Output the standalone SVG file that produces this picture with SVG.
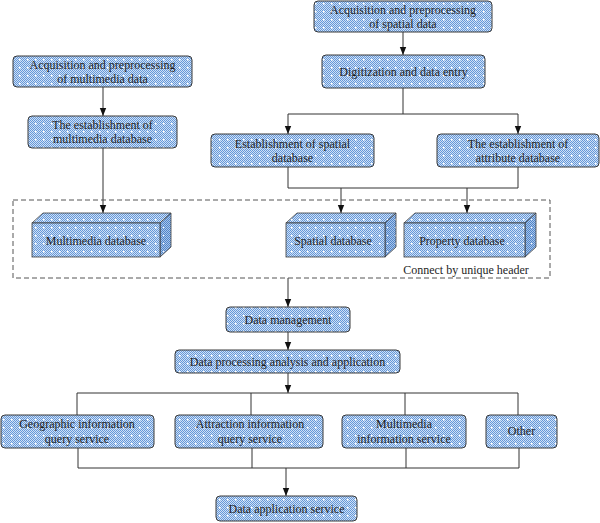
<svg xmlns="http://www.w3.org/2000/svg" width="600" height="523" viewBox="0 0 600 523">
<style>
.box{fill:url(#dots);stroke:#3a3a3a;stroke-width:1}
.face{fill:url(#dots);stroke:#3a3a3a;stroke-width:0.8}
.side{fill:url(#dotsDark);stroke:#3a3a3a;stroke-width:0.8}
text{font-family:"Liberation Serif","Times New Roman",serif;font-size:12px;fill:#1e1e1e;text-anchor:middle}
.ln{fill:none;stroke:#333;stroke-width:1}
.arr{fill:none;stroke:#333;stroke-width:1;marker-end:url(#ah)}
</style>
<defs>
<pattern id="chk" width="2" height="2" patternUnits="userSpaceOnUse">
<rect width="2" height="2" fill="#cfe1f6"/>
<rect width="1" height="1" fill="#6597d8"/>
<rect x="1" y="1" width="1" height="1" fill="#6597d8"/>
</pattern>
<pattern id="chkD" width="2" height="2" patternUnits="userSpaceOnUse">
<rect width="2" height="2" fill="#a9c6ea"/>
<rect width="1" height="1" fill="#4f83c8"/>
<rect x="1" y="1" width="1" height="1" fill="#4f83c8"/>
</pattern>
<pattern id="dots" width="8" height="8" patternUnits="userSpaceOnUse">
<rect width="8" height="8" fill="url(#chk)"/>
<rect x="3" y="3" width="1.6" height="1.6" fill="#ffffff"/>
</pattern>
<pattern id="dotsDark" width="8" height="8" patternUnits="userSpaceOnUse">
<rect width="8" height="8" fill="url(#chkD)"/>
<rect x="3" y="3" width="1.2" height="1.2" fill="#f0f6ff"/>
</pattern>
<marker id="ah" markerWidth="8" markerHeight="8" viewBox="0 0 8 8" refX="8" refY="4" orient="auto" markerUnits="userSpaceOnUse">
<path d="M0,0.8 L8,4 L0,7.2 Z" fill="#111"/>
</marker>
</defs>

<g id="connectors">
<line class="arr" x1="403" y1="32" x2="403" y2="55"/>
<polyline class="ln" points="403,88 403,114"/>
<polyline class="ln" points="288,114 518,114"/>
<line class="arr" x1="288" y1="114" x2="288" y2="134"/>
<line class="arr" x1="518" y1="114" x2="518" y2="134"/>
<line class="arr" x1="103" y1="87" x2="103" y2="116"/>
<line class="arr" x1="103" y1="148" x2="103" y2="213"/>
<polyline class="ln" points="288,167 288,188 518,188 518,167"/>
<line class="arr" x1="341" y1="188" x2="341" y2="213"/>
<line class="arr" x1="467" y1="188" x2="467" y2="213"/>
<line class="arr" x1="288" y1="278" x2="288" y2="307"/>
<line class="arr" x1="288" y1="332" x2="288" y2="350"/>
<line class="arr" x1="288" y1="373" x2="288" y2="393"/>
<polyline class="ln" points="77,415 77,393 518,393 518,415"/>
<line class="ln" x1="251" y1="393" x2="251" y2="415"/>
<line class="ln" x1="405" y1="393" x2="405" y2="415"/>
<polyline class="ln" points="78,448 78,468 519,468 519,448"/>
<line class="ln" x1="252" y1="448" x2="252" y2="468"/>
<line class="ln" x1="406" y1="448" x2="406" y2="468"/>
<line class="arr" x1="286" y1="468" x2="286" y2="496"/>
</g>

<g id="dbgroup">
<rect x="13" y="200" width="537" height="78" fill="none" stroke="#555" stroke-width="1" stroke-dasharray="5,3"/>
<text x="466" y="274">Connect by unique header</text>
</g>

<g id="n-spatial-acq">
<rect class="box" x="314" y="1" width="178" height="31" rx="4"/>
<text x="403" y="14">Acquisition and preprocessing</text>
<text x="403" y="28">of spatial data</text>
</g>
<g id="n-digit">
<rect class="box" x="322" y="55" width="163" height="33" rx="4"/>
<text x="403.5" y="75.5">Digitization and data entry</text>
</g>
<g id="n-mm-acq">
<rect class="box" x="13" y="56" width="179" height="31" rx="4"/>
<text x="102.5" y="69">Acquisition and preprocessing</text>
<text x="102.5" y="83">of multimedia data</text>
</g>
<g id="n-mm-est">
<rect class="box" x="28" y="116" width="149" height="32" rx="4"/>
<text x="102.5" y="129">The establishment of</text>
<text x="102.5" y="143">multimedia database</text>
</g>
<g id="n-sp-est">
<rect class="box" x="211" y="134" width="163" height="33" rx="4"/>
<text x="292.5" y="148">Establishment of spatial</text>
<text x="292.5" y="162">database</text>
</g>
<g id="n-attr-est">
<rect class="box" x="437" y="134" width="162" height="33" rx="4"/>
<text x="518" y="148">The establishment of</text>
<text x="518" y="162">attribute database</text>
</g>

<g id="n-mm-db">
<polygon class="face" points="32,223 43,213 171,213 160,223"/>
<polygon class="side" points="160,223 171,213 171,247 160,257"/>
<rect class="face" x="32" y="223" width="128" height="34"/>
<text x="96" y="244.5">Multimedia database</text>
</g>
<g id="n-sp-db">
<polygon class="face" points="286,223 297,213 396,213 385,223"/>
<polygon class="side" points="385,223 396,213 396,247 385,257"/>
<rect class="face" x="286" y="223" width="99" height="34"/>
<text x="333" y="244.5">Spatial database</text>
</g>
<g id="n-prop-db">
<polygon class="face" points="404,223 415,213 536,213 525,223"/>
<polygon class="side" points="525,223 536,213 536,247 525,257"/>
<rect class="face" x="404" y="223" width="121" height="34"/>
<text x="462" y="244.5">Property database</text>
</g>

<g id="n-mgmt">
<rect class="box" x="226" y="307" width="124" height="25" rx="4"/>
<text x="288" y="323.5">Data management</text>
</g>
<g id="n-proc">
<rect class="box" x="175" y="350" width="225" height="23" rx="4"/>
<text x="287.5" y="365.5">Data processing analysis and application</text>
</g>

<g id="n-geo">
<rect class="box" x="1" y="415" width="153" height="33" rx="4"/>
<text x="77" y="428">Geographic information</text>
<text x="77" y="443">query service</text>
</g>
<g id="n-attr">
<rect class="box" x="175" y="415" width="148" height="33" rx="4"/>
<text x="250" y="428">Attraction information</text>
<text x="250" y="443">query service</text>
</g>
<g id="n-mmis">
<rect class="box" x="342" y="415" width="124" height="33" rx="4"/>
<text x="404" y="428">Multimedia</text>
<text x="404" y="443">information service</text>
</g>
<g id="n-other">
<rect class="box" x="486" y="415" width="71" height="33" rx="4"/>
<text x="521.5" y="435">Other</text>
</g>
<g id="n-app">
<rect class="box" x="216" y="496" width="141" height="25" rx="4"/>
<text x="286.5" y="512.5">Data application service</text>
</g>
</svg>
